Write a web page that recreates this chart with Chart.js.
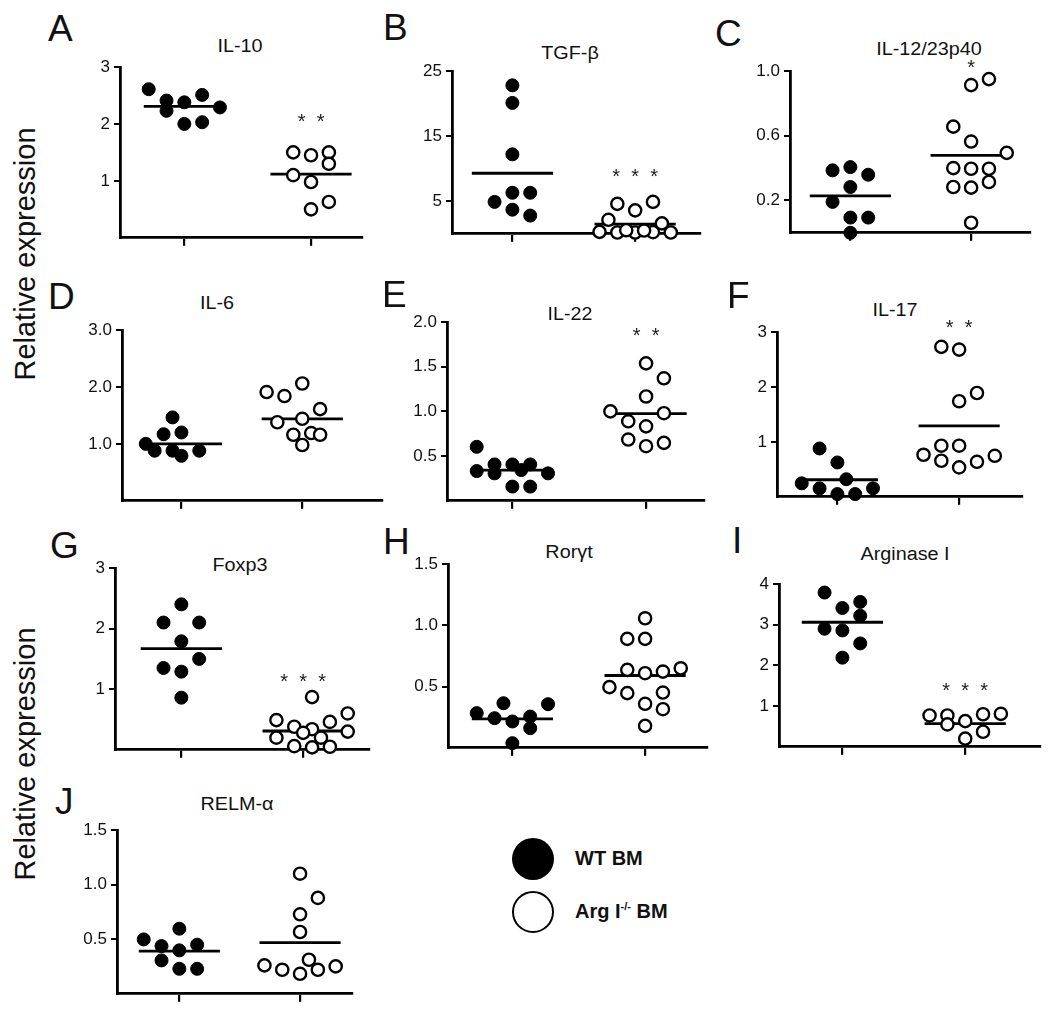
<!DOCTYPE html>
<html>
<head>
<meta charset="utf-8">
<script src="https://cdn.jsdelivr.net/npm/chart.js@4.4.1/dist/chart.umd.min.js"></script>
<style>
  body { margin: 0; background: #fff; width: 1050px; height: 1022px; position: relative; overflow: hidden;
         font-family: "Liberation Sans", Arial, sans-serif; color: #111; }
  canvas { position: absolute; }
  .lbl { position: absolute; line-height: 1; white-space: nowrap; }
  .letter { font-size: 37px; }
  .title { font-size: 18px; transform: translate(-50%, -50%) scaleX(1.1); }
  .ylab { font-size: 29px; transform: translate(-50%, -50%) rotate(-90deg); }
  .dot { position: absolute; width: 42px; height: 42px; border-radius: 50%; box-sizing: border-box; }
  .leg { font-size: 20px; font-weight: bold; transform: translateY(-50%); }
  .leg sup { font-size: 11px; vertical-align: 8px; }
</style>
</head>
<body>
<div class="lbl ylab" style="left:25px; top:254px">Relative expression</div>
<div class="lbl ylab" style="left:25px; top:754px">Relative expression</div>

<div class="dot" style="left:512px; top:838px; background:#000"></div>
<div class="dot" style="left:512px; top:891px; border:2.4px solid #000"></div>
<div class="lbl leg" style="left:575px; top:858px">WT BM</div>
<div class="lbl leg" style="left:575px; top:911px">Arg I<sup>-/-</sup> BM</div>

<script>
// ---- data ----
const groups = ['WT BM', 'Arg I-/- BM'];
const panelLetters = ['A', 'B', 'C', 'D', 'E', 'F', 'G', 'H', 'I', 'J'];
const panelTitles = ['IL-10', 'TGF-β', 'IL-12/23p40', 'IL-6', 'IL-22', 'IL-17', 'Foxp3', 'Rorγt', 'Arginase I', 'RELM-α'];
const yTickLabels = [
  ['1', '2', '3'], ['5', '15', '25'], ['0.2', '0.6', '1.0'],
  ['1.0', '2.0', '3.0'], ['0.5', '1.0', '1.5', '2.0'], ['1', '2', '3'],
  ['1', '2', '3'], ['0.5', '1.0', '1.5'], ['1', '2', '3', '4'],
  ['0.5', '1.0', '1.5']
];

const il10WT  = [2.61, 2.41, 2.38, 2.51, 2.29, 2.23, 2.00, 2.03];
const il10KO  = [1.50, 1.45, 1.50, 1.30, 1.10, 0.98, 0.50, 0.63];
const tgfbWT  = [22.8, 20.1, 12.2, 4.9, 6.3, 6.3, 3.7, 2.8];
const tgfbKO  = [4.6, 3.6, 4.9, 2.15, 1.6, 0.3, 0.2, 0.2, 0.25, 0.2, 0.55, 0.5];
const il12WT  = [0.386, 0.406, 0.359, 0.283, 0.191, 0.094, 0.094, 0.0];
const il12KO  = [0.913, 0.95, 0.656, 0.564, 0.494, 0.40, 0.396, 0.396, 0.283, 0.279, 0.314, 0.062];
const il6WT   = [1.0, 1.465, 1.17, 1.2, 0.88, 0.88, 0.79, 0.88];
const il6KO   = [1.91, 1.84, 2.06, 1.61, 1.38, 1.44, 1.16, 1.19, 1.16, 0.98];
const il22WT  = [0.604, 0.333, 0.407, 0.407, 0.407, 0.307, 0.344, 0.307, 0.159, 0.159];
const il22KO  = [1.537, 1.37, 1.167, 1.0, 0.98, 0.889, 0.833, 0.685, 0.611, 0.648];
const il17WT  = [0.88, 0.625, 0.245, 0.32, 0.154, 0.05, 0.05, 0.154];
const il17KO  = [2.73, 2.68, 1.74, 1.89, 0.93, 0.93, 0.765, 0.656, 0.535, 0.637, 0.746];
const foxp3WT = [2.40, 2.10, 2.10, 1.79, 1.50, 1.35, 1.29, 0.86];
const foxp3KO = [0.87, 0.60, 0.49, 0.46, 0.38, 0.34, 0.28, 0.20, 0.20, 0.06, 0.04, 0.05, 0.30];
const rorWT   = [0.283, 0.364, 0.356, 0.242, 0.215, 0.255, 0.16, 0.038];
const rorKO   = [1.057, 0.889, 0.889, 0.636, 0.609, 0.622, 0.649, 0.495, 0.446, 0.451, 0.359, 0.315, 0.179];
const argWT   = [3.79, 3.41, 3.56, 3.22, 2.90, 2.86, 2.54, 2.19];
const argKO   = [0.77, 0.77, 0.55, 0.63, 0.80, 0.81, 0.37, 0.20];
const relmWT  = [0.498, 0.596, 0.437, 0.45, 0.398, 0.306, 0.229, 0.229];
const relmKO  = [1.10, 0.878, 0.728, 0.566, 0.26, 0.22, 0.312, 0.183, 0.22, 0.251];

const wtMeans = [2.31, 9.3, 0.228, 1.0, 0.344, 0.31, 1.67, 0.236, 3.06, 0.39];
const koMeans = [1.12, 1.5, 0.478, 1.44, 0.974, 1.29, 0.31, 0.59, 0.57, 0.468];
const starCounts = [2, 3, 1, 0, 2, 2, 3, 0, 3, 0];
const starLevels = [2.12, 9.5, 1.05, 0, 1.9, 3.17, 1.2, 0, 1.5, 0];

const wtValues = [il10WT, tgfbWT, il12WT, il6WT, il22WT, il17WT, foxp3WT, rorWT, argWT, relmWT];
const koValues = [il10KO, tgfbKO, il12KO, il6KO, il22KO, il17KO, foxp3KO, rorKO, argKO, relmKO];

// ---- jitter columns of the dots (layout, 1 column ~ one dot width) ----
const wtCols = [
  [-2, -1, 0, 1, 2, -1, 0, 1],
  [0, 0, 0, -1, 0, 1, 0, 1],
  [-1, 0, 1, 0, -1, 0, 1, 0],
  [-2, -0.5, -1, 0, -1.5, -0.5, 0, 1],
  [-2, -2, -1, 0, 1, -1, 0.5, 2, 0, 1],
  [-1, 0, -2, 0.5, -1, 0, 1, 2],
  [0, -1, 1, 0, 1, -1, 0, 0],
  [-2, -0.5, 2, -1, 0, 1, 1, 0],
  [-1, 0, 1, 1, -1, 0, 1, 0],
  [-2, 0, -1, 1, 0, -1, 0, 1]
];
const koCols = [
  [-1, 0, 1, 1, -1, 0, 0, 1],
  [-1, 0, 1, -1.5, 1.5, -2, -1, 0, 1, 2, -0.5, 0.5],
  [0, 1, -1, 0, 2, -1, 0, 1, -1, 0, 1, 0],
  [-2, -1, 0, 1, -1.4, 0, -0.5, 0.5, 1, 0],
  [0, 1, 0, -2, 1, -1, 0, -1, 0, 1],
  [-1, 0, 0, 1, -1, 0, -2, -1, 0, 1, 2],
  [0.5, 2.5, -1.5, 1.5, -0.5, 0.5, 0, -1.5, 1, -0.5, 0.5, 1.5, 2.5],
  [0, -1, 0, -1, 0, 1, 2, -2, -1, 1, 0, 1, 0],
  [-2, -1, -1, 0, 1, 2, 1, 0],
  [0, 1, 0, 0, -2, -1, 0.5, 0, 1, 2]
];

// ---- panel geometry in page pixels: y-axis x, top tick y, x-axis y, axis end, group ticks ----
const geom = [
  { axisX: 120, top: 66.7, bottom: 238,   right: 365,  wt: 185, ko: 313, lx: 48,  ly: 15,  tx: 240, ty: 45.5 },
  { axisX: 452, top: 71,   bottom: 233.5, right: 703,  wt: 513, ko: 637, lx: 383, ly: 14,  tx: 570, ty: 53 },
  { axisX: 790, top: 70.7, bottom: 233,   right: 1033, wt: 851, ko: 973, lx: 715, ly: 20,  tx: 929, ty: 48.5 },
  { axisX: 122, top: 330,  bottom: 501,   right: 385,  wt: 182, ko: 304, lx: 48,  ly: 283, tx: 217, ty: 302.5 },
  { axisX: 447, top: 322.3,bottom: 501,   right: 707,  wt: 513, ko: 648, lx: 382, ly: 281, tx: 570, ty: 314 },
  { axisX: 777, top: 332.3,bottom: 497.5, right: 1025, wt: 838, ko: 961, lx: 727, ly: 282, tx: 895, ty: 310 },
  { axisX: 115, top: 567.7,bottom: 750,   right: 372,  wt: 182, ko: 305, lx: 50,  ly: 532, tx: 240, ty: 564.5 },
  { axisX: 448, top: 564,  bottom: 748,   right: 710,  wt: 513, ko: 647, lx: 383, ly: 528, tx: 569, ty: 551.5 },
  { axisX: 779, top: 584.3,bottom: 747,   right: 1043, wt: 843, ko: 967, lx: 732, ly: 527, tx: 905, ty: 553.5 },
  { axisX: 117, top: 830,  bottom: 993.5, right: 355,  wt: 180, ko: 302, lx: 55,  ly: 788, tx: 237, ty: 803.5 }
];

const YW = 50, XH = 14, PT = 30, PR = 6;
const DOT_STEP = 18;   // px between jitter columns
const MEAN_HALF = 41;  // px half-length of mean bars

// asterisks above the knockout group
const starPlugin = {
  id: 'stars',
  afterDraw(chart, args, opts) {
    if (!opts.count) return;
    const { ctx, scales: { x, y } } = chart;
    const cx = x.getPixelForValue(2);
    const cy = y.getPixelForValue(opts.level);
    ctx.save();
    ctx.font = '20px "Liberation Sans", Arial';
    ctx.fillStyle = '#222';
    ctx.textAlign = 'center';
    for (let i = 0; i < opts.count; i++) {
      ctx.fillText('*', cx + (i - (opts.count - 1) / 2) * 19, cy + 11);
    }
    ctx.restore();
  }
};

const addLabel = (cls, text, left, top) => {
  const d = document.createElement('div');
  d.className = 'lbl ' + cls;
  d.textContent = text;
  d.style.left = left + 'px';
  d.style.top = top + 'px';
  document.body.appendChild(d);
};

panelLetters.forEach((letter, p) => {
  const g = geom[p];
  const sp = g.ko - g.wt;
  const colW = DOT_STEP / sp;
  const half = MEAN_HALF / sp;
  const tickLabels = yTickLabels[p];
  const tickValues = tickLabels.map(Number);

  addLabel('letter', letter, g.lx, g.ly - 0.13 * 37);
  addLabel('title', panelTitles[p], g.tx, g.ty);

  const w = Math.round(YW + (g.right - g.axisX) + PR);
  const h = Math.round(PT + (g.bottom - g.top) + XH);
  const canvas = document.createElement('canvas');
  canvas.width = w;
  canvas.height = h;
  canvas.style.width = w + 'px';
  canvas.style.height = h + 'px';
  canvas.style.left = (g.axisX - YW) + 'px';
  canvas.style.top = (g.top - PT) + 'px';
  document.body.appendChild(canvas);

  const chart = new Chart(canvas, {
    type: 'scatter',
    data: {
      datasets: [
        {
          label: groups[0],
          data: wtValues[p].map((v, i) => ({ x: 1 + wtCols[p][i] * colW, y: v })),
          pointRadius: 6.5, pointBackgroundColor: '#000', pointBorderColor: '#000', pointBorderWidth: 1,
          clip: false, order: 0
        },
        {
          label: groups[1],
          data: koValues[p].map((v, i) => ({ x: 2 + koCols[p][i] * colW, y: v })),
          pointRadius: 6.1, pointBackgroundColor: '#fff', pointBorderColor: '#000', pointBorderWidth: 2.4,
          clip: false, order: 0
        },
        {
          type: 'line', data: [{ x: 1 - half, y: wtMeans[p] }, { x: 1 + half, y: wtMeans[p] }],
          borderColor: '#000', borderWidth: 2.8, pointRadius: 0, clip: false, order: 1
        },
        {
          type: 'line', data: [{ x: 2 - half, y: koMeans[p] }, { x: 2 + half, y: koMeans[p] }],
          borderColor: '#000', borderWidth: 2.8, pointRadius: 0, clip: false, order: 1
        }
      ]
    },
    options: {
      responsive: false,
      animation: false,
      events: [],
      layout: { padding: { top: PT, right: PR, left: 0, bottom: 0 } },
      plugins: {
        legend: { display: false },
        tooltip: { enabled: false },
        stars: { count: starCounts[p], level: starLevels[p] }
      },
      scales: {
        x: {
          type: 'linear',
          z: 1,
          min: 1 - (g.wt - g.axisX) / sp,
          max: 2 + (g.right - g.ko) / sp,
          afterBuildTicks: s => { s.ticks = [{ value: 1 }, { value: 2 }]; },
          afterFit: s => { s.height = XH; },
          ticks: { callback: () => '', autoSkip: false },
          grid: { drawOnChartArea: false, drawTicks: true, tickLength: 8, color: '#000', lineWidth: 2.2 },
          border: { display: true, color: '#000', width: 2.8 }
        },
        y: {
          min: 0,
          max: tickValues[tickValues.length - 1],
          afterBuildTicks: s => { s.ticks = tickValues.map(v => ({ value: v })); },
          afterFit: s => { s.width = YW; },
          ticks: {
            callback: (v, i) => tickLabels[i],
            font: { family: 'Liberation Sans', size: 17 },
            color: '#111',
            padding: 4,
            autoSkip: false
          },
          grid: { drawOnChartArea: false, drawTicks: true, tickLength: 6, color: '#000', lineWidth: 2 },
          border: { display: true, color: '#000', width: 2.8 }
        }
      }
    },
    plugins: [starPlugin]
  });

  // line the plot area up with the axis position measured in the figure
  const ca = chart.chartArea;
  canvas.style.left = (g.axisX - ca.left) + 'px';
  canvas.style.top = (g.top - ca.top) + 'px';
});
</script>
</body>
</html>
